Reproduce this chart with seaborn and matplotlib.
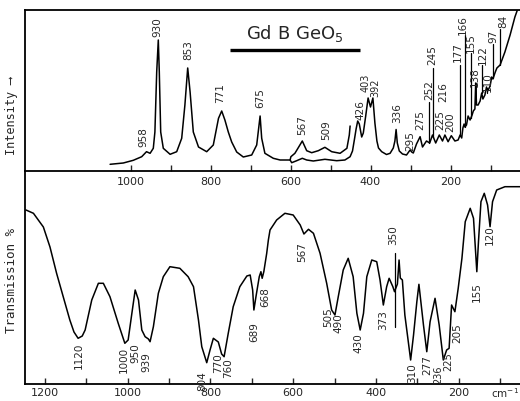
import numpy as np
import pandas as pd
import matplotlib
matplotlib.use("Agg")
import matplotlib.pyplot as plt
import seaborn as sns

# ---------------- Raman spectrum (top panel) ----------------
raman_wn = [1051, 1018, 993, 972, 960, 951, 943, 939, 934.5, 930.5, 928, 924.5, 918, 901,
            884.5, 872, 864, 857, 851, 843, 830, 809.5, 793, 780, 772, 764, 755.5, 747,
            734.5, 718, 697, 684.5, 676, 672, 664, 643, 626, 601, 597, 584.5, 570.5, 559.5,
            543, 514, 484.5, 464, 451, 445, 440, 436, 432, 428, 422, 418, 412, 406, 400,
            394, 389, 384, 380, 372, 360, 351, 343, 339, 336, 333, 328, 320, 310, 301, 297,
            293, 285, 276, 270, 260, 252, 245, 237, 228, 220, 214, 206, 198, 189, 181, 176,
            172, 169, 166, 164, 160, 156, 151, 146, 143, 139, 137, 135, 131, 126, 122, 119,
            114, 110, 107, 101, 97, 94, 88, 84, 76, 64, 51, 39, 31]
raman_int = [6.7, 8, 10.7, 14.3, 19.3, 17.7, 22.7, 39, 99, 131, 99, 39, 22.7, 16.7,
             19.3, 32.7, 66, 103, 79, 39, 24, 19.3, 26, 52.7, 60, 51, 39, 29,
             19, 14, 16, 26, 55, 32.7, 17.7, 12.7, 11, 11, 8.3, 10.3, 12.7, 11,
             10, 11.7, 10.3, 11, 14.3, 20, 32, 42, 50, 47, 34, 38, 55, 73, 64,
             73, 48, 30, 23, 19.3, 16.5, 17.7, 23, 30, 41.5, 28, 20, 17, 16, 21, 19,
             18, 27, 34.3, 24, 30, 28, 36, 28, 36, 30, 36, 29.3, 35.3, 30, 31, 36,
             33, 43, 47, 44, 46, 55, 51, 56, 60, 62, 88, 66, 66, 70, 78, 72,
             76, 84, 80, 85, 94, 92, 99, 103, 106, 119, 136, 154, 163]
# second (expanded) trace 600-450 cm-1
raman_hi_wn = [601, 599, 589, 584, 570.5, 559.5, 547, 530.5, 514, 497, 476, 459, 453, 451]
raman_hi_int = [11, 14.3, 17.7, 21, 30, 20.3, 18.3, 20.3, 23.7, 19.3, 17.7, 22.7, 36, 45]
raman_labels = ["958", "930", "853", "771", "675", "567", "509", "426", "403", "392", "336",
                "295", "275", "252", "245", "225", "216", "200", "177", "166", "155", "138",
                "122", "110", "97", "84"]

# ---------------- IR transmission (bottom panel) ----------------
ir_wn = [1246, 1228, 1204, 1188, 1172, 1156, 1140, 1130, 1120, 1110, 1103, 1087, 1071, 1059,
         1043, 1023, 1007, 999, 990, 982, 974, 966, 958, 950, 946, 938, 926, 914, 898, 874,
         854, 841, 829, 821, 809, 801, 793, 781, 773, 767, 757, 745, 729, 712, 704, 698,
         695, 690, 682, 678, 675, 671, 664, 660, 656, 640, 620, 600, 583, 574, 563, 551,
         535, 519, 507, 499, 491, 479, 467, 455, 446, 438, 430, 422, 410, 398, 390, 382,
         374, 368, 359, 355, 348, 344, 341, 336, 330, 316, 309, 301, 296, 285, 277, 269,
         257, 247, 237, 229, 223, 217, 209, 201, 192, 184, 172, 164, 156, 152, 146, 138,
         130, 124, 118, 108, 88, 51]
ir_T = [174, 170.7, 157, 137, 110.7, 87.3, 64, 52, 45.7, 48, 54, 84, 100.7, 100.7,
        87.3, 60.7, 40.7, 44, 70.7, 94, 84, 54, 47.3, 45, 42.3, 57.3, 90.7, 107.3, 117.3, 115.7,
        107.3, 97.3, 64, 37.3, 21.3, 34, 45.7, 42, 30, 27.3, 50.7, 77.3, 97.3, 108, 109, 94,
        74, 87.3, 107.3, 112.3, 105.7, 112.3, 130.7, 144, 154, 164, 170.7, 169, 159, 150, 154.7, 150.7,
        130.7, 100.7, 74, 69, 87.3, 114, 125.7, 107.3, 70.7, 54, 70.7, 107.3, 124, 122.3, 104, 79,
        97.3, 105.7, 97.3, 92.3, 100, 124, 106, 104, 69, 24, 49, 82.3, 99.7, 59, 32.3, 62.3,
        85.7, 59, 24, 34, 35.7, 79, 72.3, 95.7, 125.7, 162.3, 175.7, 165.7, 112.3, 142.3, 182.3, 190.7,
        179, 157.3, 182.3, 194, 197.3, 197.3]
ir_labels = ["1120", "1000", "950", "939", "804", "770", "760", "689", "668", "567", "505",
             "490", "430", "373", "350", "310", "277", "236", "225", "205", "155", "120"]

# ---------------- layout (label placement) ----------------
raman_lab_x = [968.75, 933.75, 856, 776, 676, 571, 511, 424, 412, 388, 334.5, 301, 276,
               253.75, 244.5, 226, 218, 201, 180.5, 168, 149, 139, 119.5, 105.5, 93, 68]
raman_lab_y = [24, 134, 111, 68, 63, 36, 31, 51, 79, 74, 48, 20, 41, 71, 106, 41, 69, 39,
               109, 136, 118, 84, 106, 79, 128, 143]
raman_leaders = {"252": (253, 69), "245": (243, 103), "177": (176, 106), "166": (164, 136),
                 "155": (149, 118), "122": (122, 106), "110": (109.5, 78), "97": (93, 127),
                 "84": (76, 142)}
ir_lab_x = [1119.5, 1009, 982.4, 954, 821, 780.9, 756.8, 694.6, 668, 579.3, 515, 490.8,
            442.4, 382, 357.8, 313.3, 277, 249, 226, 204.5, 156.2, 124]
ir_lab_top = [41, 37, 41, 32, 13, 31, 26, 62, 97, 142, 77, 71, 51, 74, 159, 21, 29, 19, 32,
              61, 102, 159]

sns.set_style("white")
plt.rcParams["font.family"] = ["DejaVu Sans"]

W, H = 520, 401
fig = plt.figure(figsize=(W / 100, H / 100), dpi=100)
left = 25 / W
ax2 = fig.add_axes([left, 1 - 384 / H, 1 - left, (384 - 171) / H])
ax1 = fig.add_axes([left, 1 - 171 / H, 1 - left, (171 - 10) / H])
for ax in (ax1, ax2):
    ax.set_facecolor("none")

lw = 1.1
df_r = pd.DataFrame({"wn": raman_wn, "I": raman_int})
df_rh = pd.DataFrame({"wn": raman_hi_wn, "I": raman_hi_int})
df_ir = pd.DataFrame({"wn": ir_wn, "T": ir_T})
sns.lineplot(data=df_r, x="wn", y="I", ax=ax1, color="black", lw=lw, sort=False,
             estimator=None, legend=False)
sns.lineplot(data=df_rh, x="wn", y="I", ax=ax1, color="black", lw=lw, sort=False,
             estimator=None, legend=False)
sns.lineplot(data=df_ir, x="wn", y="T", ax=ax2, color="black", lw=lw, sort=False,
             estimator=None, legend=False)

ax1.set_xlim(1263.75, 26.25)
ax1.set_ylim(0, 161)
ax2.set_xlim(1248.4, 51.6)
ax2.set_ylim(0, 213)

fs = 7.5
for t, x, y in zip(raman_labels, raman_lab_x, raman_lab_y):
    ax1.text(x, y, t, rotation=90, ha="center", va="bottom",
             fontsize=7 if t in ("403", "392") else fs)
rw = np.array(raman_wn)[::-1]
ri = np.array(raman_int)[::-1]
for t, (x, ytop) in raman_leaders.items():
    ybot = np.interp(x, rw, ri)
    ax1.plot([x, x], [ybot, ytop], color="black", lw=0.9)

for t, x, y in zip(ir_labels, ir_lab_x, ir_lab_top):
    ax2.text(x, y, t, rotation=90, ha="center", va="top",
             fontsize=7 if t in ("236", "225") else fs, clip_on=False)
ax2.plot([353.7, 353.7], [57, 131], color="black", lw=0.9)

# title
ax1.text(588.75, 138, "Gd B GeO$_5$", ha="center", va="center", fontsize=13)
ax1.plot([751, 426], [121, 121], color="black", lw=2.4, solid_capstyle="butt")

# axes styling
for ax in (ax1, ax2):
    ax.set_yticks([])
    ax.set_xlabel("")
    ax.spines["right"].set_visible(False)
    for s in ("left", "bottom", "top"):
        ax.spines[s].set_linewidth(1.3)
        ax.spines[s].set_color("black")
ax2.spines["top"].set_visible(False)

ax1.set_xticks(list(range(1000, 99, -100)))
ax1.set_xticklabels([str(v) if v % 200 == 0 else "" for v in range(1000, 99, -100)])
ax1.tick_params(axis="x", direction="in", length=4, width=1, pad=4, labelsize=8,
                bottom=True)
ax2.set_xticks(list(range(1200, 99, -100)))
ax2.set_xticklabels([str(v) if v % 200 == 0 else "" for v in range(1200, 99, -100)])
ax2.tick_params(axis="x", direction="in", length=4, width=1, pad=3, labelsize=8,
                bottom=True)
ax2.text(88, -0.012, "cm$^{-1}$", transform=ax2.get_xaxis_transform(),
         ha="center", va="top", fontsize=7.5)

mono = ["DejaVu Sans Mono", "DejaVu Sans"]
ax1.set_ylabel("Intensity \u27f6", fontsize=8.5, family=mono, labelpad=2)
ax2.set_ylabel("Transmission %", fontsize=9, family=mono, labelpad=2)
ax1.yaxis.set_label_coords(-0.015, 0.345)
ax2.yaxis.set_label_coords(-0.015, 0.488)

fig.savefig("out.png", dpi=100)
